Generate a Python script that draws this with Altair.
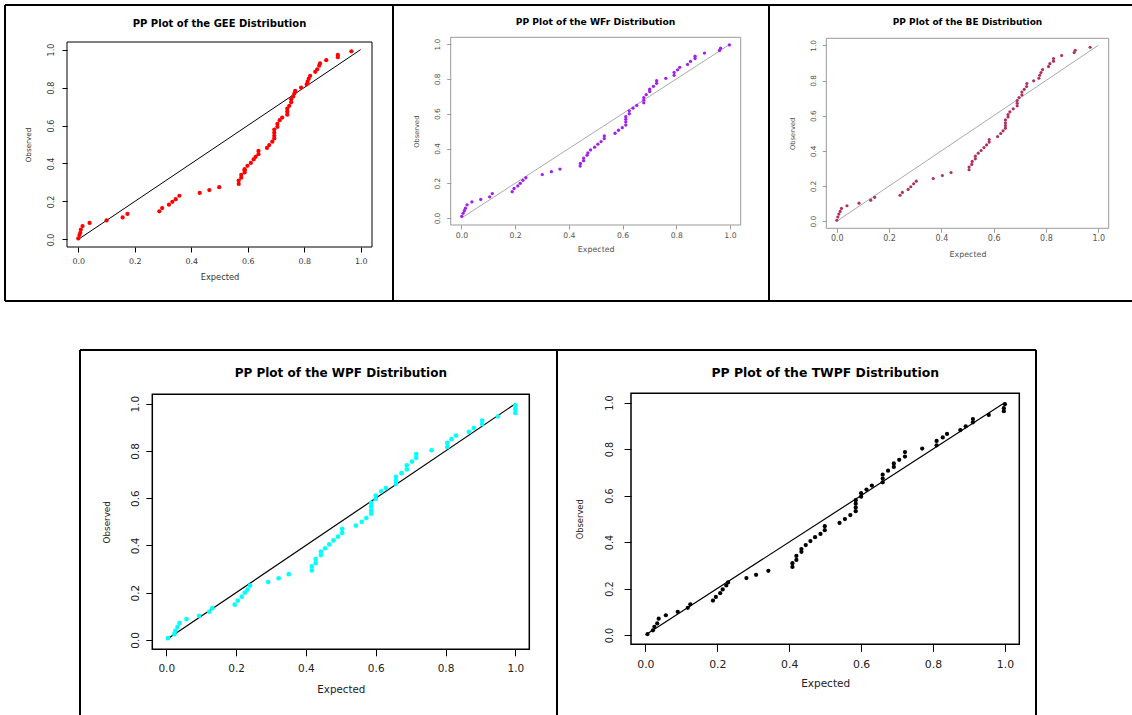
import altair as alt
import pandas as pd

# ---------------- data ----------------
gee_expected = [0.0, 0.004, 0.007, 0.009, 0.015, 0.04, 0.10, 0.157, 0.174, 0.287,
                0.297, 0.321, 0.333, 0.345, 0.358, 0.43, 0.464, 0.499, 0.568, 0.568,
                0.577, 0.577, 0.589, 0.589, 0.589, 0.599, 0.611, 0.621, 0.628, 0.638,
                0.638, 0.668, 0.676, 0.687, 0.694, 0.694, 0.694, 0.694, 0.705, 0.705,
                0.713, 0.722, 0.74, 0.74, 0.74, 0.747, 0.754, 0.754, 0.761, 0.765,
                0.768, 0.789, 0.809, 0.812, 0.816, 0.821, 0.839, 0.846, 0.853, 0.856,
                0.878, 0.919, 0.919, 0.967]
gee_observed = [0.005, 0.023, 0.035, 0.052, 0.07, 0.087, 0.10, 0.116, 0.134, 0.148,
                0.165, 0.183, 0.198, 0.212, 0.23, 0.245, 0.26, 0.275, 0.292, 0.31,
                0.325, 0.34, 0.353, 0.365, 0.37, 0.388, 0.403, 0.421, 0.435, 0.449,
                0.466, 0.482, 0.497, 0.515, 0.532, 0.546, 0.562, 0.579, 0.593, 0.609,
                0.628, 0.642, 0.657, 0.673, 0.689, 0.704, 0.723, 0.739, 0.753, 0.769,
                0.783, 0.80, 0.817, 0.831, 0.847, 0.862, 0.883, 0.896, 0.915, 0.927,
                0.944, 0.96, 0.972, 0.991]

wfr_expected = [0.001, 0.006, 0.011, 0.015, 0.021, 0.039, 0.072, 0.105, 0.115, 0.189,
                0.196, 0.21, 0.219, 0.229, 0.24, 0.301, 0.335, 0.367, 0.442, 0.443,
                0.455, 0.455, 0.468, 0.471, 0.481, 0.496, 0.508, 0.52, 0.532, 0.532,
                0.572, 0.585, 0.599, 0.612, 0.612, 0.612, 0.612, 0.625, 0.625, 0.639,
                0.653, 0.679, 0.679, 0.679, 0.688, 0.701, 0.701, 0.715, 0.727, 0.727,
                0.761, 0.792, 0.792, 0.805, 0.813, 0.842, 0.853, 0.87, 0.87, 0.905,
                0.961, 0.965, 0.998]
wfr_observed = [0.01, 0.027, 0.042, 0.057, 0.076, 0.093, 0.107, 0.122, 0.141, 0.152,
                0.17, 0.185, 0.2, 0.217, 0.232, 0.25, 0.267, 0.282, 0.299, 0.314,
                0.33, 0.345, 0.362, 0.375, 0.392, 0.408, 0.425, 0.44, 0.457, 0.472,
                0.488, 0.505, 0.52, 0.535, 0.552, 0.568, 0.583, 0.6, 0.617, 0.632,
                0.648, 0.663, 0.678, 0.693, 0.71, 0.728, 0.741, 0.758, 0.775, 0.79,
                0.804, 0.821, 0.838, 0.853, 0.867, 0.884, 0.901, 0.918, 0.931, 0.949,
                0.964, 0.977, 0.996]

be_expected = [0.0, 0.004, 0.008, 0.013, 0.018, 0.039, 0.085, 0.13, 0.145, 0.242,
               0.251, 0.273, 0.283, 0.294, 0.304, 0.369, 0.404, 0.437, 0.506, 0.506,
               0.516, 0.518, 0.53, 0.53, 0.541, 0.552, 0.563, 0.573, 0.583, 0.583,
               0.615, 0.627, 0.636, 0.645, 0.645, 0.645, 0.645, 0.655, 0.655, 0.662,
               0.675, 0.69, 0.69, 0.69, 0.697, 0.708, 0.708, 0.717, 0.726, 0.727,
               0.753, 0.773, 0.776, 0.781, 0.787, 0.81, 0.815, 0.829, 0.829, 0.86,
               0.908, 0.912, 0.969]
be_observed = [0.006, 0.024, 0.041, 0.056, 0.073, 0.088, 0.103, 0.12, 0.136, 0.148,
               0.164, 0.181, 0.196, 0.213, 0.228, 0.243, 0.26, 0.277, 0.293, 0.308,
               0.323, 0.34, 0.355, 0.37, 0.387, 0.402, 0.419, 0.434, 0.45, 0.465,
               0.482, 0.499, 0.514, 0.529, 0.544, 0.559, 0.576, 0.593, 0.607, 0.622,
               0.639, 0.656, 0.671, 0.686, 0.703, 0.718, 0.735, 0.75, 0.766, 0.783,
               0.798, 0.813, 0.83, 0.845, 0.862, 0.879, 0.896, 0.91, 0.925, 0.942,
               0.959, 0.972, 0.989]

wpf_expected = [0.005, 0.023, 0.026, 0.032, 0.038, 0.058, 0.094, 0.123, 0.132, 0.196,
                0.205, 0.216, 0.225, 0.233, 0.24, 0.292, 0.322, 0.351, 0.417, 0.417,
                0.428, 0.428, 0.443, 0.443, 0.455, 0.467, 0.479, 0.492, 0.504, 0.504,
                0.543, 0.56, 0.573, 0.587, 0.587, 0.587, 0.587, 0.6, 0.6, 0.616,
                0.629, 0.658, 0.658, 0.658, 0.674, 0.689, 0.689, 0.704, 0.716, 0.716,
                0.76, 0.805, 0.805, 0.817, 0.83, 0.867, 0.881, 0.905, 0.905, 0.95,
                1.0, 1.0, 1.0]
wpf_observed = [0.007, 0.024, 0.038, 0.054, 0.071, 0.088, 0.102, 0.119, 0.134, 0.149,
                0.166, 0.183, 0.2, 0.213, 0.23, 0.245, 0.261, 0.278, 0.294, 0.311,
                0.325, 0.342, 0.359, 0.374, 0.388, 0.404, 0.421, 0.437, 0.453, 0.47,
                0.484, 0.5, 0.516, 0.534, 0.548, 0.565, 0.58, 0.597, 0.611, 0.629,
                0.643, 0.66, 0.675, 0.69, 0.706, 0.722, 0.739, 0.755, 0.771, 0.787,
                0.803, 0.817, 0.834, 0.85, 0.865, 0.881, 0.897, 0.914, 0.929, 0.946,
                0.961, 0.977, 0.993]

twpf_expected = [0.006, 0.021, 0.025, 0.033, 0.037, 0.057, 0.09, 0.118, 0.125, 0.188,
                 0.196, 0.208, 0.215, 0.225, 0.23, 0.281, 0.308, 0.342, 0.409, 0.409,
                 0.42, 0.42, 0.434, 0.434, 0.446, 0.459, 0.472, 0.487, 0.499, 0.499,
                 0.54, 0.555, 0.57, 0.585, 0.585, 0.585, 0.585, 0.6, 0.6, 0.615,
                 0.63, 0.66, 0.66, 0.66, 0.675, 0.691, 0.691, 0.706, 0.722, 0.722,
                 0.77, 0.81, 0.81, 0.827, 0.839, 0.876, 0.891, 0.911, 0.911, 0.955,
                 0.997, 0.997, 1.0]
twpf_observed = [0.004, 0.02, 0.035, 0.05, 0.07, 0.085, 0.10, 0.117, 0.132, 0.148,
                 0.164, 0.18, 0.196, 0.213, 0.226, 0.245, 0.259, 0.276, 0.293, 0.309,
                 0.323, 0.34, 0.358, 0.37, 0.387, 0.404, 0.421, 0.435, 0.451, 0.468,
                 0.482, 0.499, 0.516, 0.533, 0.549, 0.565, 0.58, 0.595, 0.61, 0.626,
                 0.643, 0.657, 0.673, 0.69, 0.707, 0.723, 0.738, 0.754, 0.768, 0.787,
                 0.802, 0.816, 0.835, 0.85, 0.865, 0.882, 0.898, 0.915, 0.929, 0.947,
                 0.963, 0.976, 0.993]

diag_x = [0.0, 1.0]
diag_y = [0.0, 1.0]
tick_values = [0.0, 0.2, 0.4, 0.6, 0.8, 1.0]
panel_titles = ["PP Plot of the GEE Distribution", "PP Plot of the WFr Distribution",
                "PP Plot of the BE Distribution", "PP Plot of the WPF Distribution",
                "PP Plot of the TWPF Distribution"]

FONT = "DejaVu Sans"
DOMAIN = [-0.04, 1.04]
W, H = 1132, 715


def panel(expected, observed, c):
    x0, x1, y0, y1 = c["box_px"]
    sx = alt.Scale(domain=DOMAIN, range=[x0, x1], nice=False, zero=False)
    sy = alt.Scale(domain=DOMAIN, range=[y1, y0], nice=False, zero=False)
    xaxis = alt.Axis(values=tick_values, format=".1f", title="Expected", orient="bottom",
                     offset=y1 - H, grid=False, domain=False, tickSize=c["tick"],
                     tickColor=c["box"], tickWidth=1, labelFont=FONT,
                     labelFontSize=c["xl"], labelColor=c["lab"], labelPadding=c["xlp"],
                     labelFlush=False, labelOverlap=False, titleFont=FONT,
                     titleFontSize=c["xt"], titleFontWeight="normal",
                     titleColor=c["lab"], titlePadding=c["xtp"])
    yaxis = alt.Axis(values=tick_values, format=".1f", title="Observed", orient="left",
                     offset=-x0, grid=False, domain=False, tickSize=c["tick"],
                     tickColor=c["box"], tickWidth=1, labelFont=FONT,
                     labelFontSize=c["yl"], labelColor=c["lab"], labelAngle=270,
                     labelAlign="center", labelBaseline="alphabetic",
                     labelPadding=c["ylp"], labelFlush=False, labelOverlap=False,
                     titleFont=FONT, titleFontSize=c["yt"], titleFontWeight="normal",
                     titleColor=c["lab"], titlePadding=c["ytp"])
    x = alt.X("Expected:Q", scale=sx, axis=xaxis)
    y = alt.Y("Observed:Q", scale=sy, axis=yaxis)

    box_df = pd.DataFrame({"Expected": [DOMAIN[0]], "Expected2": [DOMAIN[1]],
                           "Observed": [DOMAIN[0]], "Observed2": [DOMAIN[1]]})
    box = alt.Chart(box_df).mark_rect(
        fill="white", fillOpacity=0, stroke=c["box"], strokeWidth=c["bw"]
    ).encode(x=x, x2="Expected2:Q", y=y, y2="Observed2:Q")
    diag = pd.DataFrame({"Expected": diag_x, "Observed": diag_y})
    line = alt.Chart(diag).mark_line(color=c["line"], strokeWidth=c["lw"]).encode(x=x, y=y)
    pts = pd.DataFrame({"Expected": expected, "Observed": observed})
    points = alt.Chart(pts).mark_circle(color=c["pt"], size=c["size"], opacity=1).encode(x=x, y=y)
    return alt.layer(line, points, box)


def title_text(text, cx, cy, size):
    return alt.Chart(pd.DataFrame({"t": [text]})).mark_text(
        font=FONT, fontSize=size, fontWeight="bold", color="black",
        align="center", baseline="middle"
    ).encode(text="t:N", x=alt.value(cx), y=alt.value(cy))


def frame_rule(xa, ya, xb, yb):
    return alt.Chart(pd.DataFrame({"k": [0]})).mark_rule(
        color="black", strokeWidth=2
    ).encode(x=alt.value(xa), y=alt.value(ya), x2=alt.value(xb), y2=alt.value(yb))


cfg = [
    dict(box_px=(67, 372, 42, 247), xl=7.9, yl=8, xt=8.3, yt=7.2, tick=5, xlp=5, ylp=9,
         xtp=8, ytp=15, box="black", bw=1, line="black", lw=1, lab="#333333",
         pt="#ff0000", size=18, title=(219.5, 24, 10)),
    dict(box_px=(450.7, 740.7, 37.3, 225), xl=7.7, yl=7.3, xt=7.9, yt=6.7, tick=4, xlp=2,
         ylp=7, xtp=7, ytp=14, box="#999999", bw=1, line="#aaaaaa", lw=1,
         lab="#555555", pt="#a020f0", size=11, title=(595.5, 21.7, 9.2)),
    dict(box_px=(826.3, 1108.7, 38.3, 228.3), xl=8, yl=7.3, xt=7.9, yt=6.7, tick=4,
         xlp=2, ylp=7, xtp=8, ytp=14, box="#999999", bw=1, line="#aaaaaa", lw=1,
         lab="#555555", pt="#b03060", size=10, title=(967.5, 22.3, 9)),
    dict(box_px=(152.3, 529.3, 394.3, 649.3), xl=10.5, yl=10.5, xt=10.3, yt=8.8, tick=6.5,
         xlp=8, ylp=7.5, xtp=10, ytp=19, box="black", bw=1.5, line="black", lw=1.2,
         lab="#222222", pt="#00ffff", size=22, title=(340.8, 373.3, 12)),
    dict(box_px=(631, 1019.3, 393.3, 644.3), xl=10.9, yl=9.6, xt=10.5, yt=8.3, tick=7,
         xlp=7, ylp=11.5, xtp=9, ytp=20, box="black", bw=1.5, line="black", lw=1.2,
         lab="#222222", pt="#000000", size=18, title=(825.2, 373.3, 12.4)),
]
series = [(gee_expected, gee_observed), (wfr_expected, wfr_observed),
          (be_expected, be_observed), (wpf_expected, wpf_observed),
          (twpf_expected, twpf_observed)]

frames = [
    frame_rule(5, 5, W, 5), frame_rule(5, 301, W, 301),
    frame_rule(5, 5, 5, 301), frame_rule(393, 5, 393, 301), frame_rule(769, 5, 769, 301),
    frame_rule(80, 350, 1036, 350),
    frame_rule(80, 350, 80, H), frame_rule(557, 350, 557, H), frame_rule(1036, 350, 1036, H),
]
titles = [title_text(t, *c["title"]) for t, c in zip(panel_titles, cfg)]
panels = [panel(e, o, c) for (e, o), c in zip(series, cfg)]

chart = alt.layer(*frames, *titles, *panels).resolve_scale(
    x="independent", y="independent"
).resolve_axis(
    x="independent", y="independent"
).properties(
    width=W, height=H, padding=0, background="white",
    autosize=alt.AutoSizeParams(type="none"),
).configure_view(strokeWidth=0)

chart.save("out.html", embed_options={"renderer": "svg", "actions": False})
